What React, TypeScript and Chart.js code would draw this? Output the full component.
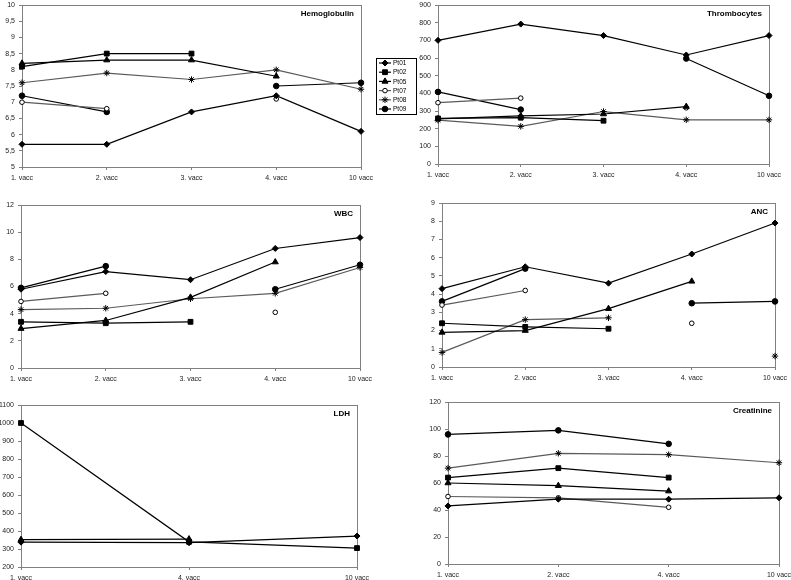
import React, { useEffect, useRef } from 'react';
import { Chart, registerables } from 'chart.js';

Chart.register(...registerables);

// ---------- data ----------
const visits5 = ['1. vacc', '2. vacc', '3. vacc', '4. vacc', '10 vacc'];
const visitsLdh = ['1. vacc', '4. vacc', '10 vacc'];
const visitsCreat = ['1. vacc', '2. vacc', '4. vacc', '10 vacc'];

const patients = ['Pt01', 'Pt02', 'Pt05', 'Pt07', 'Pt08', 'Pt09'];

// Hemoglobulin
const hemoPt01 = [5.7, 5.7, 6.7, 7.2, 6.1];
const hemoPt02 = [8.1, 8.5, 8.5, null, null];
const hemoPt05 = [8.2, 8.3, 8.3, 7.8, null];
const hemoPt07 = [7.0, 6.8, null, 7.1, null];
const hemoPt08 = [7.6, 7.9, 7.7, 8.0, 7.4];
const hemoPt09 = [7.2, 6.7, null, 7.5, 7.6];

// Thrombocytes
const thrPt01 = [700, 792, 727, 617, 727];
const thrPt02 = [258, 262, 245, null, null];
const thrPt05 = [255, 272, 283, 325, null];
const thrPt07 = [347, 373, null, 318, null];
const thrPt08 = [248, 213, 297, 250, 250];
const thrPt09 = [408, 308, null, 597, 386];

// WBC
const wbcPt01 = [5.8, 7.1, 6.5, 8.8, 9.6];
const wbcPt02 = [3.4, 3.3, 3.4, null, null];
const wbcPt05 = [2.9, 3.5, 5.2, 7.8, null];
const wbcPt07 = [4.9, 5.5, null, 4.1, null];
const wbcPt08 = [4.3, 4.4, 5.1, 5.5, 7.4];
const wbcPt09 = [5.9, 7.5, null, 5.8, 7.6];

// ANC
const ancPt01 = [4.3, 5.5, 4.6, 6.2, 7.9];
const ancPt02 = [2.4, 2.2, 2.1, null, null];
const ancPt05 = [1.9, 2.0, 3.2, 4.7, null];
const ancPt07 = [3.4, 4.2, null, 2.4, null];
const ancPt08 = [0.8, 2.6, 2.7, null, 0.6];
const ancPt09 = [3.6, 5.4, null, 3.5, 3.6];

// LDH
const ldhPt01 = [338, 335, 372];
const ldhPt02 = [1000, 340, 305];
const ldhPt05 = [352, 355, null];
const ldhPt07 = [null, null, null];
const ldhPt08 = [null, null, null];
const ldhPt09 = [null, null, null];

// Creatinine
const crPt01 = [43, 48, 48, 49];
const crPt02 = [64, 71, 64, null];
const crPt05 = [60, 58, 54, null];
const crPt07 = [50, 49, 42, null];
const crPt08 = [71, 82, 81, 75];
const crPt09 = [96, 99, 89, null];

// y axis ranges [min, max, step]
const hemoAxis = [5, 10, 0.5];
const thrAxis = [0, 900, 100];
const wbcAxis = [0, 12, 2];
const ancAxis = [0, 9, 1];
const ldhAxis = [200, 1100, 100];
const crAxis = [0, 120, 20];

// ---------- styles ----------
const lineColors = ['#000000', '#000000', '#000000', '#5a5a5a', '#5a5a5a', '#000000'];
const markerStyles = ['rectRot', 'rect', 'triangle', 'circle', 'star', 'circle'];
const markerFill = ['#000000', '#000000', '#000000', '#ffffff', '#000000', '#000000'];
const markerRadius = [3, 3.4, 3.5, 2.3, 3.2, 2.8];

const OX = 20; // canvases start 20px left of the page so edge labels are not clipped
const W = 791;
const CW = W + OX;
const H = 620;
const PAGE_H = 580;
const YW = 30;
const FONT = '"Liberation Sans", Arial, sans-serif';

type Panel = {
  title: string;
  labels: string[];
  series: (number | null)[][];
  axis: number[];
  comma?: boolean;
  box: number[]; // plot area L, T, R, B (page px)
  legend?: boolean;
};

const panels: Panel[] = [
  { title: 'Hemoglobulin', labels: visits5, series: [hemoPt01, hemoPt02, hemoPt05, hemoPt07, hemoPt08, hemoPt09], axis: hemoAxis, comma: true, box: [22, 3, 361, 167], legend: true },
  { title: 'Thrombocytes', labels: visits5, series: [thrPt01, thrPt02, thrPt05, thrPt07, thrPt08, thrPt09], axis: thrAxis, box: [438, 3, 769, 164] },
  { title: 'WBC', labels: visits5, series: [wbcPt01, wbcPt02, wbcPt05, wbcPt07, wbcPt08, wbcPt09], axis: wbcAxis, box: [21, 205, 360, 368] },
  { title: 'ANC', labels: visits5, series: [ancPt01, ancPt02, ancPt05, ancPt07, ancPt08, ancPt09], axis: ancAxis, box: [442, 203, 775, 367] },
  { title: 'LDH', labels: visitsLdh, series: [ldhPt01, ldhPt02, ldhPt05, ldhPt07, ldhPt08, ldhPt09], axis: ldhAxis, box: [21, 405, 357, 567] },
  { title: 'Creatinine', labels: visitsCreat, series: [crPt01, crPt02, crPt05, crPt07, crPt08, crPt09], axis: crAxis, box: [448, 402, 779, 564] },
];

function drawMarker(ctx: CanvasRenderingContext2D, i: number, x: number, y: number) {
  const r = markerRadius[i];
  const style = markerStyles[i];
  ctx.save();
  ctx.fillStyle = markerFill[i];
  ctx.strokeStyle = '#000';
  ctx.lineWidth = 1;
  ctx.beginPath();
  if (style === 'rectRot') {
    ctx.moveTo(x, y - r); ctx.lineTo(x + r, y); ctx.lineTo(x, y + r); ctx.lineTo(x - r, y); ctx.closePath();
    ctx.fill(); ctx.stroke();
  } else if (style === 'rect') {
    const s = r * Math.SQRT1_2;
    ctx.rect(x - s, y - s, 2 * s, 2 * s); ctx.fill(); ctx.stroke();
  } else if (style === 'triangle') {
    ctx.moveTo(x, y - r); ctx.lineTo(x + r * 0.866, y + r * 0.5); ctx.lineTo(x - r * 0.866, y + r * 0.5); ctx.closePath();
    ctx.fill(); ctx.stroke();
  } else if (style === 'circle') {
    ctx.arc(x, y, r, 0, Math.PI * 2); ctx.fill(); ctx.stroke();
  } else {
    const s = r * 0.75;
    ctx.moveTo(x - s, y - s); ctx.lineTo(x + s, y + s);
    ctx.moveTo(x + s, y - s); ctx.lineTo(x - s, y + s);
    ctx.moveTo(x, y - r); ctx.lineTo(x, y + r);
    ctx.moveTo(x - r, y); ctx.lineTo(x + r, y);
    ctx.stroke();
  }
  ctx.restore();
}

function PanelChart({ panel }: { panel: Panel }) {
  const ref = useRef<HTMLCanvasElement>(null);
  useEffect(() => {
    const [L, T, R, B] = panel.box;
    const xH = 22;
    const [mn, mx, st] = panel.axis;
    const deco = {
      id: 'deco',
      beforeDatasetsDraw(chart: any) {
        const ctx = chart.ctx;
        const a = chart.chartArea;
        ctx.save();
        ctx.strokeStyle = '#808080';
        ctx.lineWidth = 1;
        ctx.strokeRect(Math.round(a.left) + 0.5, Math.round(a.top) + 0.5, Math.round(a.right - a.left), Math.round(a.bottom - a.top));
        ctx.restore();
      },
      afterDraw(chart: any) {
        const ctx = chart.ctx;
        const a = chart.chartArea;
        ctx.save();
        ctx.fillStyle = '#000';
        ctx.font = `bold 8px ${FONT}`;
        ctx.textAlign = 'right';
        ctx.textBaseline = 'middle';
        ctx.fillText(panel.title, a.right - 7, a.top + 9);
        if (panel.legend) {
          const lx = 376 + OX, ly = 58, lw = 40, lh = 56;
          ctx.fillStyle = '#fff';
          ctx.fillRect(lx, ly, lw, lh);
          ctx.strokeStyle = '#000';
          ctx.lineWidth = 1;
          ctx.strokeRect(lx + 0.5, ly + 0.5, lw, lh);
          ctx.font = `6.5px ${FONT}`;
          ctx.textAlign = 'left';
          patients.forEach((p, i) => {
            const y = ly + 5 + i * 9.2;
            ctx.strokeStyle = lineColors[i];
            ctx.lineWidth = 1.2;
            ctx.beginPath();
            ctx.moveTo(lx + 3, y);
            ctx.lineTo(lx + 15, y);
            ctx.stroke();
            drawMarker(ctx, i, lx + 9, y);
            ctx.fillStyle = '#000';
            ctx.fillText(p, lx + 17, y + 0.5);
          });
        }
        ctx.restore();
      },
    };
    const chart = new Chart(ref.current as HTMLCanvasElement, {
      type: 'line',
      data: {
        labels: panel.labels,
        datasets: patients.map((p, i) => ({
          label: p,
          data: panel.series[i],
          borderColor: lineColors[i],
          backgroundColor: markerFill[i],
          borderWidth: 1.2,
          tension: 0,
          spanGaps: false,
          pointStyle: markerStyles[i] as any,
          pointRadius: markerRadius[i],
          pointBackgroundColor: markerFill[i],
          pointBorderColor: '#000000',
          pointBorderWidth: 1,
        })),
      },
      options: {
        animation: false,
        responsive: false,
        maintainAspectRatio: false,
        devicePixelRatio: 1,
        events: [],
        layout: { padding: { left: L + OX - YW, top: T, right: W - R, bottom: H - B - xH } },
        plugins: { legend: { display: false }, tooltip: { enabled: false } },
        scales: {
          x: {
            type: 'category',
            offset: false,
            border: { display: false },
            grid: { drawOnChartArea: false, drawTicks: true, tickLength: 3, color: '#808080' },
            ticks: { font: { size: 7, family: FONT }, color: '#222', padding: 4, maxRotation: 0, autoSkip: false },
            afterFit: (s: any) => { s.height = xH; s.paddingLeft = 0; s.paddingRight = 0; },
          },
          y: {
            min: mn,
            max: mx,
            border: { display: false },
            grid: { drawOnChartArea: false, drawTicks: true, tickLength: 3, color: '#808080' },
            ticks: {
              stepSize: st,
              font: { size: 7, family: FONT },
              color: '#222',
              padding: 4,
              callback: (v: any) => (panel.comma ? String(v).replace('.', ',') : String(v)),
            },
            afterFit: (s: any) => { s.width = YW; s.paddingTop = 0; s.paddingBottom = 0; },
          },
        },
      } as any,
      plugins: [deco],
    });
    return () => chart.destroy();
  }, [panel]);
  return (
    <canvas
      ref={ref}
      width={CW}
      height={H}
      style={{ position: 'absolute', left: -OX, top: 0, width: CW, height: H }}
    />
  );
}

export default function App() {
  return (
    <div style={{ position: 'fixed', left: 0, top: 0, width: W, height: PAGE_H, background: '#fff', overflow: 'hidden' }}>
      {panels.map((p) => (
        <PanelChart key={p.title} panel={p} />
      ))}
    </div>
  );
}
